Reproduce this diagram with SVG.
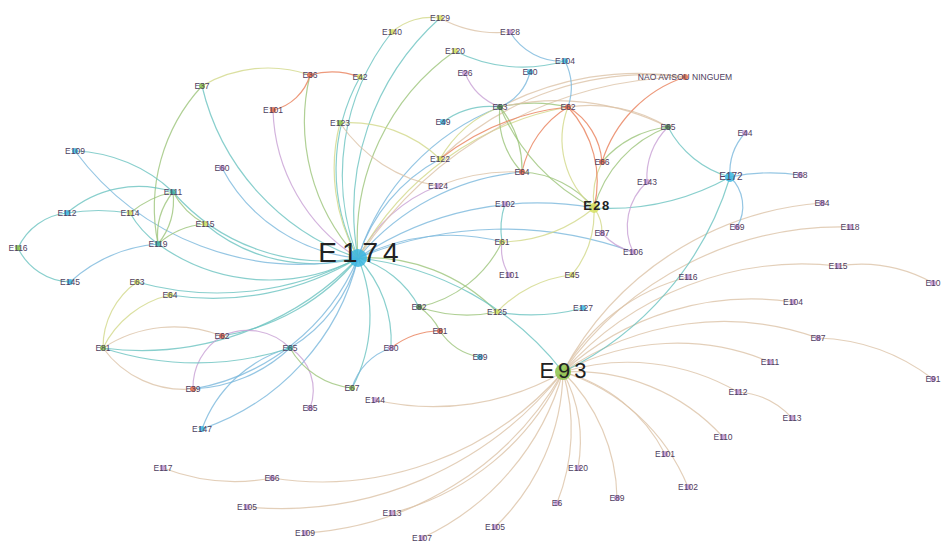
<svg xmlns="http://www.w3.org/2000/svg" width="944" height="543" viewBox="0 0 944 543">
<style>
.e path{fill:none;stroke-width:1.2;opacity:.8}
.t{stroke:#6cc3c0}.b{stroke:#7ab8dc}.g{stroke:#9cc47a}.y{stroke:#d2d88a}.n{stroke:#dcc3a8}.r{stroke:#e8805a}.p{stroke:#c8a0d4}
text{font-family:"Liberation Sans",Arial,sans-serif;font-size:8.5px;fill:#4e4060;text-anchor:middle}
.big{fill:#222;font-size:28px;letter-spacing:5px}
.mid{fill:#222;font-size:22px;letter-spacing:4px}
.e28{fill:#222;font-size:13px;font-weight:bold;letter-spacing:1.5px}
circle{r:3px;opacity:.85}
.cC{fill:#3bb6e0}.cG{fill:#8bc34a}.cD{fill:#4a8a4a}.cR{fill:#e36a44}.cP{fill:#c49ad6}.cY{fill:#d6e060}.cT{fill:#3fb0a8}
</style>
<rect width="944" height="543" fill="#fff"/>
<g id="connectors" class="e">
<path class="t" d="M358,258 A240,240 0 0 1 202,86"/>
<path class="g" d="M358,258 A200,200 0 0 1 310,75"/>
<path class="p" d="M358,258 A180,180 0 0 1 273,110"/>
<path class="t" d="M358,258 A190,190 0 0 1 360,77"/>
<path class="t" d="M358,258 A230,230 0 0 1 392,32"/>
<path class="t" d="M358,258 A260,260 0 0 1 440,18"/>
<path class="g" d="M358,258 A230,230 0 0 1 455,51"/>
<path class="y" d="M358,258 A180,180 0 0 1 340,123"/>
<path class="b" d="M358,258 A170,170 0 0 1 222,168"/>
<path class="t" d="M358,258 A200,200 0 0 1 173,192"/>
<path class="t" d="M358,258 A170,170 0 0 1 205,224"/>
<path class="t" d="M358,258 A190,190 0 0 1 158,244"/>
<path class="t" d="M358,258 A300,300 0 0 1 137,282"/>
<path class="t" d="M358,258 A280,280 0 0 1 170,295"/>
<path class="t" d="M358,258 A220,220 0 0 1 222,336"/>
<path class="b" d="M358,258 A150,150 0 0 1 290,348"/>
<path class="b" d="M358,258 A220,220 0 0 1 193,389"/>
<path class="b" d="M358,258 A240,240 0 0 1 202,429"/>
<path class="t" d="M358,258 A150,150 0 0 1 352,388"/>
<path class="t" d="M358,258 A120,120 0 0 1 391,348"/>
<path class="t" d="M358,258 A100,100 0 0 1 419,307"/>
<path class="g" d="M358,258 A180,180 0 0 1 497,312"/>
<path class="t" d="M358,258 A300,300 0 0 1 563,372"/>
<path class="b" d="M358,258 A200,200 0 0 1 502,242"/>
<path class="b" d="M358,258 A320,320 0 0 1 594,208"/>
<path class="b" d="M358,258 A380,380 0 0 1 633,252"/>
<path class="p" d="M358,258 A150,150 0 0 1 438,186"/>
<path class="b" d="M358,258 A170,170 0 0 1 440,159"/>
<path class="b" d="M358,258 A240,240 0 0 1 500,107"/>
<path class="y" d="M358,258 A300,300 0 0 1 568,107"/>
<path class="b" d="M358,258 A240,240 0 0 1 522,172"/>
<path class="n" d="M358,258 A400,400 0 0 1 685,77"/>
<path class="t" d="M358,258 A300,300 0 0 1 103,348"/>
<path class="b" d="M358,258 A280,280 0 0 1 75,151"/>
<path class="n" d="M563,372 A320,320 0 0 1 822,203"/>
<path class="n" d="M563,372 A340,340 0 0 1 850,227"/>
<path class="n" d="M563,372 A200,200 0 0 1 688,277"/>
<path class="n" d="M563,372 A320,320 0 0 1 838,266"/>
<path class="n" d="M563,372 A280,280 0 0 1 793,302"/>
<path class="n" d="M563,372 A280,280 0 0 1 818,338"/>
<path class="n" d="M563,372 A240,240 0 0 1 770,362"/>
<path class="n" d="M563,372 A220,220 0 0 1 738,392"/>
<path class="n" d="M563,372 A200,200 0 0 1 723,437"/>
<path class="n" d="M563,372 A160,160 0 0 1 665,454"/>
<path class="n" d="M563,372 A200,200 0 0 1 688,487"/>
<path class="n" d="M563,372 A180,180 0 0 1 617,498"/>
<path class="n" d="M563,372 A150,150 0 0 1 578,468"/>
<path class="n" d="M563,372 A200,200 0 0 1 557,503"/>
<path class="n" d="M563,372 A220,220 0 0 1 495,527"/>
<path class="n" d="M563,372 A260,260 0 0 1 422,538"/>
<path class="n" d="M563,372 A260,260 0 0 1 392,513"/>
<path class="n" d="M563,372 A320,320 0 0 1 305,533"/>
<path class="n" d="M563,372 A360,360 0 0 1 247,507"/>
<path class="n" d="M563,372 A320,320 0 0 1 272,478"/>
<path class="n" d="M563,372 A260,260 0 0 1 375,400"/>
<path class="n" d="M838,266 A150,150 0 0 1 933,283"/>
<path class="n" d="M818,338 A200,200 0 0 1 933,379"/>
<path class="n" d="M738,392 A80,80 0 0 1 792,418"/>
<path class="n" d="M272,478 A200,200 0 0 1 163,468"/>
<path class="t" d="M730,177 A320,320 0 0 1 563,372"/>
<path class="b" d="M730,177 A40,40 0 0 1 737,227"/>
<path class="b" d="M730,177 A200,200 0 0 1 800,175"/>
<path class="t" d="M730,177 A250,250 0 0 1 594,208"/>
<path class="b" d="M745,133 A60,60 0 0 0 730,177"/>
<path class="t" d="M668,127 A100,100 0 0 0 730,177"/>
<path class="p" d="M668,127 A70,70 0 0 0 647,182"/>
<path class="g" d="M668,127 A120,120 0 0 0 594,208"/>
<path class="g" d="M668,127 A100,100 0 0 0 602,162"/>
<path class="p" d="M647,182 A60,60 0 0 0 633,252"/>
<path class="p" d="M602,233 A60,60 0 0 0 633,252"/>
<path class="y" d="M594,208 A40,40 0 0 1 602,233"/>
<path class="y" d="M594,208 A100,100 0 0 1 572,275"/>
<path class="y" d="M594,208 A150,150 0 0 1 502,242"/>
<path class="y" d="M594,208 A80,80 0 0 1 602,162"/>
<path class="g" d="M594,208 A100,100 0 0 0 522,172"/>
<path class="y" d="M568,107 A90,90 0 0 0 594,208"/>
<path class="r" d="M568,107 A110,110 0 0 1 594,208"/>
<path class="r" d="M568,107 A70,70 0 0 1 602,162"/>
<path class="r" d="M568,107 A100,100 0 0 0 522,172"/>
<path class="n" d="M568,107 A150,150 0 0 1 668,127"/>
<path class="r" d="M685,77 A130,130 0 0 0 602,162"/>
<path class="n" d="M685,77 A300,300 0 0 0 440,159"/>
<path class="n" d="M500,107 A300,300 0 0 1 685,77"/>
<path class="g" d="M500,107 A150,150 0 0 1 568,107"/>
<path class="g" d="M500,107 A80,80 0 0 0 522,172"/>
<path class="g" d="M500,107 A100,100 0 0 1 522,172"/>
<path class="g" d="M500,107 A200,200 0 0 0 594,208"/>
<path class="y" d="M500,107 A120,120 0 0 0 440,159"/>
<path class="n" d="M500,107 A250,250 0 0 1 668,127"/>
<path class="p" d="M465,73 A60,60 0 0 0 500,107"/>
<path class="b" d="M530,72 A50,50 0 0 1 500,107"/>
<path class="t" d="M443,122 A80,80 0 0 1 500,107"/>
<path class="b" d="M565,61 A60,60 0 0 1 568,107"/>
<path class="b" d="M510,32 A60,60 0 0 0 565,61"/>
<path class="n" d="M440,18 A120,120 0 0 0 510,32"/>
<path class="y" d="M392,32 A60,60 0 0 1 440,18"/>
<path class="t" d="M455,51 A150,150 0 0 0 565,61"/>
<path class="y" d="M340,123 A130,130 0 0 1 440,159"/>
<path class="n" d="M340,123 A150,150 0 0 0 438,186"/>
<path class="n" d="M438,186 A200,200 0 0 1 522,172"/>
<path class="r" d="M440,159 A250,250 0 0 1 568,107"/>
<path class="y" d="M202,86 A130,130 0 0 1 310,75"/>
<path class="r" d="M310,75 A80,80 0 0 1 360,77"/>
<path class="r" d="M310,75 A50,50 0 0 1 273,110"/>
<path class="g" d="M202,86 A180,180 0 0 0 158,244"/>
<path class="t" d="M75,151 A150,150 0 0 1 173,192"/>
<path class="t" d="M67,213 A110,110 0 0 1 173,192"/>
<path class="t" d="M67,213 A200,200 0 0 1 130,213"/>
<path class="t" d="M67,213 A60,60 0 0 0 18,248"/>
<path class="t" d="M18,248 A60,60 0 0 0 70,282"/>
<path class="b" d="M70,282 A150,150 0 0 1 158,244"/>
<path class="t" d="M130,213 A100,100 0 0 0 158,244"/>
<path class="g" d="M130,213 A100,100 0 0 1 173,192"/>
<path class="g" d="M173,192 A70,70 0 0 0 158,244"/>
<path class="g" d="M173,192 A70,70 0 0 1 158,244"/>
<path class="g" d="M173,192 A80,80 0 0 0 205,224"/>
<path class="g" d="M158,244 A80,80 0 0 1 205,224"/>
<path class="t" d="M502,242 A80,80 0 0 1 505,204"/>
<path class="p" d="M502,242 A50,50 0 0 0 509,275"/>
<path class="g" d="M502,242 A120,120 0 0 1 419,307"/>
<path class="y" d="M572,275 A120,120 0 0 0 497,312"/>
<path class="t" d="M497,312 A200,200 0 0 0 583,308"/>
<path class="g" d="M497,312 A150,150 0 0 1 419,307"/>
<path class="g" d="M419,307 A60,60 0 0 1 440,331"/>
<path class="r" d="M440,331 A80,80 0 0 0 391,348"/>
<path class="g" d="M440,331 A60,60 0 0 0 480,357"/>
<path class="p" d="M290,348 A60,60 0 0 0 222,336"/>
<path class="b" d="M290,348 A150,150 0 0 1 193,389"/>
<path class="b" d="M290,348 A130,130 0 0 0 202,429"/>
<path class="p" d="M290,348 A50,50 0 0 1 310,408"/>
<path class="g" d="M290,348 A80,80 0 0 0 352,388"/>
<path class="p" d="M222,336 A60,60 0 0 0 193,389"/>
<path class="n" d="M222,336 A130,130 0 0 0 103,348"/>
<path class="y" d="M103,348 A80,80 0 0 1 137,282"/>
<path class="y" d="M103,348 A100,100 0 0 1 170,295"/>
<path class="n" d="M103,348 A100,100 0 0 0 193,389"/>
<path class="t" d="M103,348 A300,300 0 0 0 290,348"/>
<path class="b" d="M352,388 A60,60 0 0 1 391,348"/>
</g>
<g id="node-E174"><circle class="cC" cx="358" cy="258" style="r:9px"/><text class="big" x="361" y="262">E174</text></g>
<g id="node-E93"><circle class="cG" cx="563" cy="372" style="r:8px"/><text class="mid" x="565" y="378">E93</text></g>
<g id="node-E28"><circle class="cY" cx="594" cy="208" style="r:5px"/><text class="e28" x="597" y="210">E28</text></g>
<g id="node-E172"><circle class="cC" cx="730" cy="177" style="r:5px"/><text x="731" y="180" style="font-size:10px">E172</text></g>
<g id="node-NAO"><circle class="cR" cx="685" cy="77"/><text x="685" y="80">NAO AVISOU NINGUEM</text></g>
<g id="node-E129"><circle class="cY" cx="440" cy="18"/><text x="440" y="21">E129</text></g>
<g id="node-E140"><circle class="cY" cx="392" cy="32"/><text x="392" y="35">E140</text></g>
<g id="node-E128"><circle class="cP" cx="510" cy="32"/><text x="510" y="35">E128</text></g>
<g id="node-E120"><circle class="cY" cx="455" cy="51"/><text x="455" y="54">E120</text></g>
<g id="node-E104"><circle class="cC" cx="565" cy="61"/><text x="565" y="64">E104</text></g>
<g id="node-E26"><circle class="cP" cx="465" cy="73"/><text x="465" y="76">E26</text></g>
<g id="node-E40"><circle class="cC" cx="530" cy="72"/><text x="530" y="75">E40</text></g>
<g id="node-E36"><circle class="cR" cx="310" cy="75"/><text x="310" y="78">E36</text></g>
<g id="node-E42"><circle class="cY" cx="360" cy="77"/><text x="360" y="80">E42</text></g>
<g id="node-E37"><circle class="cG" cx="202" cy="86"/><text x="202" y="89">E37</text></g>
<g id="node-E101a"><circle class="cR" cx="273" cy="110"/><text x="273" y="113">E101</text></g>
<g id="node-E53"><circle class="cD" cx="500" cy="107"/><text x="500" y="110">E53</text></g>
<g id="node-E62a"><circle class="cR" cx="568" cy="107"/><text x="568" y="110">E62</text></g>
<g id="node-E123"><circle class="cG" cx="340" cy="123"/><text x="340" y="126">E123</text></g>
<g id="node-E49"><circle class="cC" cx="443" cy="122"/><text x="443" y="125">E49</text></g>
<g id="node-E65a"><circle class="cD" cx="668" cy="127"/><text x="668" y="130">E65</text></g>
<g id="node-E44"><circle class="cP" cx="745" cy="133"/><text x="745" y="136">E44</text></g>
<g id="node-E122"><circle class="cY" cx="440" cy="159"/><text x="440" y="162">E122</text></g>
<g id="node-E66a"><circle class="cR" cx="602" cy="162"/><text x="602" y="165">E66</text></g>
<g id="node-E143"><circle class="cP" cx="647" cy="182"/><text x="647" y="185">E143</text></g>
<g id="node-E68"><circle class="cP" cx="800" cy="175"/><text x="800" y="178">E68</text></g>
<g id="node-E60"><circle class="cP" cx="222" cy="168"/><text x="222" y="171">E60</text></g>
<g id="node-E124"><circle class="cP" cx="438" cy="186"/><text x="438" y="189">E124</text></g>
<g id="node-E64a"><circle class="cR" cx="522" cy="172"/><text x="522" y="175">E64</text></g>
<g id="node-E102a"><circle class="cP" cx="505" cy="204"/><text x="505" y="207">E102</text></g>
<g id="node-E109a"><circle class="cC" cx="75" cy="151"/><text x="75" y="154">E109</text></g>
<g id="node-E111a"><circle class="cT" cx="173" cy="192"/><text x="173" y="195">E111</text></g>
<g id="node-E112a"><circle class="cC" cx="67" cy="213"/><text x="67" y="216">E112</text></g>
<g id="node-E114"><circle class="cY" cx="130" cy="213"/><text x="130" y="216">E114</text></g>
<g id="node-E115a"><circle class="cY" cx="205" cy="224"/><text x="205" y="227">E115</text></g>
<g id="node-E119"><circle class="cT" cx="158" cy="244"/><text x="158" y="247">E119</text></g>
<g id="node-E116a"><circle class="cG" cx="18" cy="248"/><text x="18" y="251">E116</text></g>
<g id="node-E145"><circle class="cC" cx="70" cy="282"/><text x="70" y="285">E145</text></g>
<g id="node-E61"><circle class="cY" cx="502" cy="242"/><text x="502" y="245">E61</text></g>
<g id="node-E87a"><circle class="cP" cx="602" cy="233"/><text x="602" y="236">E87</text></g>
<g id="node-E106"><circle class="cP" cx="633" cy="252"/><text x="633" y="255">E106</text></g>
<g id="node-E69"><circle class="cP" cx="737" cy="227"/><text x="737" y="230">E69</text></g>
<g id="node-E84"><circle class="cP" cx="822" cy="203"/><text x="822" y="206">E84</text></g>
<g id="node-E118"><circle class="cP" cx="850" cy="227"/><text x="850" y="230">E118</text></g>
<g id="node-E116b"><circle class="cP" cx="688" cy="277"/><text x="688" y="280">E116</text></g>
<g id="node-E115b"><circle class="cP" cx="838" cy="266"/><text x="838" y="269">E115</text></g>
<g id="node-E10"><circle class="cP" cx="933" cy="283"/><text x="933" y="286">E10</text></g>
<g id="node-E104b"><circle class="cP" cx="793" cy="302"/><text x="793" y="305">E104</text></g>
<g id="node-E87b"><circle class="cP" cx="818" cy="338"/><text x="818" y="341">E87</text></g>
<g id="node-E91"><circle class="cP" cx="933" cy="379"/><text x="933" y="382">E91</text></g>
<g id="node-E111b"><circle class="cP" cx="770" cy="362"/><text x="770" y="365">E111</text></g>
<g id="node-E112b"><circle class="cP" cx="738" cy="392"/><text x="738" y="395">E112</text></g>
<g id="node-E113b"><circle class="cP" cx="792" cy="418"/><text x="792" y="421">E113</text></g>
<g id="node-E110"><circle class="cP" cx="723" cy="437"/><text x="723" y="440">E110</text></g>
<g id="node-E101c"><circle class="cP" cx="665" cy="454"/><text x="665" y="457">E101</text></g>
<g id="node-E102c"><circle class="cP" cx="688" cy="487"/><text x="688" y="490">E102</text></g>
<g id="node-E89a"><circle class="cP" cx="617" cy="498"/><text x="617" y="501">E89</text></g>
<g id="node-E120b"><circle class="cP" cx="578" cy="468"/><text x="578" y="471">E120</text></g>
<g id="node-E6"><circle class="cP" cx="557" cy="503"/><text x="557" y="506">E6</text></g>
<g id="node-E101b"><circle class="cP" cx="509" cy="275"/><text x="509" y="278">E101</text></g>
<g id="node-E45"><circle class="cY" cx="572" cy="275"/><text x="572" y="278">E45</text></g>
<g id="node-E127"><circle class="cC" cx="583" cy="308"/><text x="583" y="311">E127</text></g>
<g id="node-E125"><circle class="cY" cx="497" cy="312"/><text x="497" y="315">E125</text></g>
<g id="node-E82"><circle class="cD" cx="419" cy="307"/><text x="419" y="310">E82</text></g>
<g id="node-E81b"><circle class="cR" cx="440" cy="331"/><text x="440" y="334">E81</text></g>
<g id="node-E89b"><circle class="cC" cx="480" cy="357"/><text x="480" y="360">E89</text></g>
<g id="node-E80"><circle class="cP" cx="391" cy="348"/><text x="391" y="351">E80</text></g>
<g id="node-E63"><circle class="cY" cx="137" cy="282"/><text x="137" y="285">E63</text></g>
<g id="node-E64b"><circle class="cY" cx="170" cy="295"/><text x="170" y="298">E64</text></g>
<g id="node-E81a"><circle class="cG" cx="103" cy="348"/><text x="103" y="351">E81</text></g>
<g id="node-E62b"><circle class="cR" cx="222" cy="336"/><text x="222" y="339">E62</text></g>
<g id="node-E65b"><circle class="cT" cx="290" cy="348"/><text x="290" y="351">E65</text></g>
<g id="node-E39"><circle class="cR" cx="193" cy="389"/><text x="193" y="392">E39</text></g>
<g id="node-E147"><circle class="cC" cx="202" cy="429"/><text x="202" y="432">E147</text></g>
<g id="node-E85"><circle class="cP" cx="310" cy="408"/><text x="310" y="411">E85</text></g>
<g id="node-E67"><circle class="cG" cx="352" cy="388"/><text x="352" y="391">E67</text></g>
<g id="node-E144"><circle class="cP" cx="375" cy="400"/><text x="375" y="403">E144</text></g>
<g id="node-E117"><circle class="cP" cx="163" cy="468"/><text x="163" y="471">E117</text></g>
<g id="node-E66b"><circle class="cP" cx="272" cy="478"/><text x="272" y="481">E66</text></g>
<g id="node-E105a"><circle class="cP" cx="247" cy="507"/><text x="247" y="510">E105</text></g>
<g id="node-E109b"><circle class="cP" cx="305" cy="533"/><text x="305" y="536">E109</text></g>
<g id="node-E113a"><circle class="cP" cx="392" cy="513"/><text x="392" y="516">E113</text></g>
<g id="node-E107"><circle class="cP" cx="422" cy="538"/><text x="422" y="541">E107</text></g>
<g id="node-E105b"><circle class="cP" cx="495" cy="527"/><text x="495" y="530">E105</text></g>
</svg>
